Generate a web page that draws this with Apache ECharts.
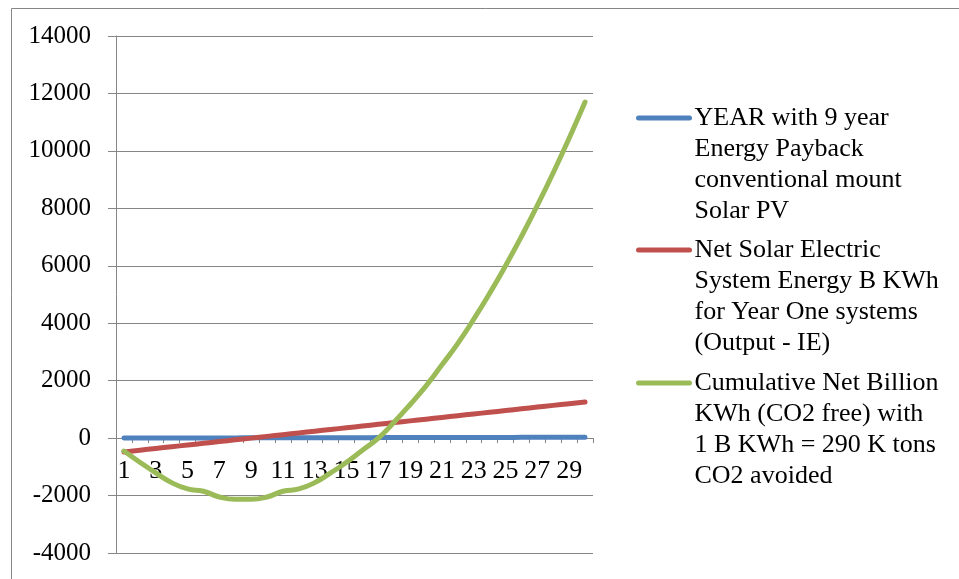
<!DOCTYPE html>
<html>
<head>
<meta charset="utf-8">
<script src="https://cdn.jsdelivr.net/npm/echarts@6/dist/echarts.min.js"></script>
<style>
html,body{margin:0;padding:0;background:#fff;}
#chart{width:959px;height:579px;}
</style>
</head>
<body>
<div id="chart"></div>
<script>
const categories = ['1','2','3','4','5','6','7','8','9','10','11','12','13','14','15','16','17','18','19','20','21','22','23','24','25','26','27','28','29','30'];
const seriesNames = [
  'YEAR with 9 year Energy Payback conventional mount Solar PV',
  'Net Solar Electric System Energy B KWh for Year One systems (Output - IE)',
  'Cumulative Net Billion KWh (CO2 free) with 1 B KWh = 290 K tons CO2 avoided'
];
const legendLabels = [
  'YEAR with 9 year\nEnergy Payback\nconventional mount\nSolar PV',
  'Net Solar Electric\nSystem Energy B KWh\nfor Year One systems\n(Output - IE)',
  'Cumulative Net Billion\nKWh (CO2 free) with\n1 B KWh = 290 K tons\nCO2 avoided'
];
const yearValues = [1,2,3,4,5,6,7,8,9,10,11,12,13,14,15,16,17,18,19,20,21,22,23,24,25,26,27,28,29,30];
const netValues = [-480,-420,-360,-300,-240,-180,-120,-60,0,60,120,180,240,300,360,420,480,540,600,660,720,780,840,900,960,1020,1080,1140,1200,1260];
const cumulativeValues = [-450,-840,-1210,-1550,-1770,-1850,-2050,-2130,-2130,-2050,-1850,-1770,-1550,-1210,-840,-420,0,560,1170,1820,2550,3300,4140,5040,6000,7020,8100,9240,10440,11700];
const yTicks = {min:-4000, max:14000, interval:2000};
const colors = ['#4F81BD','#C0504D','#9BBB59'];

const FONT = "'Liberation Serif','Times New Roman',serif";
const GRAY = '#868686';
const chart = echarts.init(document.getElementById('chart'));
const values = [yearValues, netValues, cumulativeValues];
const legendTops = [9.5, 141.5, 274.5];

const gridTop = 36, gridBottom = 26, chartH = 579;
const plotH = chartH - gridTop - gridBottom;
// shift x axis from the bottom edge up to the zero line of the value axis
const zeroOffset = -plotH * (0 - yTicks.min) / (yTicks.max - yTicks.min);

const option = {
  animation: false,
  backgroundColor: '#fff',
  color: colors,
  textStyle: {fontFamily: FONT},
  graphic: [{
    type: 'rect', left: 9, top: 6, z: -1,
    shape: {width: 1000, height: 700},
    style: {fill: 'none', stroke: GRAY, lineWidth: 1}
  }],
  grid: {left: 116, right: 366, top: gridTop, bottom: gridBottom, containLabel: false, outerBoundsMode: 'none'},
  xAxis: {
    type: 'category',
    data: categories,
    boundaryGap: true,
    position: 'bottom',
    offset: zeroOffset,
    axisLine: {onZero: false, lineStyle: {color: GRAY, width: 1}},
    axisTick: {show: true, interval: 0, length: 5, lineStyle: {color: GRAY}},
    axisLabel: {interval: 1, fontSize: 26, color: '#000', fontFamily: FONT, margin: 20},
    splitLine: {show: false}
  },
  yAxis: {
    type: 'value',
    min: yTicks.min, max: yTicks.max, interval: yTicks.interval,
    axisLine: {show: true, lineStyle: {color: GRAY, width: 1}},
    axisTick: {show: true, length: 8, lineStyle: {color: GRAY}},
    axisLabel: {fontSize: 25, color: '#000', fontFamily: FONT, margin: 25, formatter: v => String(v)},
    splitLine: {show: true, lineStyle: {color: GRAY, width: 1}}
  },
  legend: seriesNames.map((n, i) => ({
    data: [n],
    orient: 'vertical',
    left: 636,
    top: legendTops[i],
    padding: 0,
    itemWidth: 51,
    itemHeight: 14,
    lineStyle: {width: 5, cap: 'round'},
    itemStyle: {opacity: 0},
    formatter: () => '\n\n\n' + legendLabels[i],
    textStyle: {fontSize: 26, lineHeight: 31, color: '#000', fontFamily: FONT},
    selectedMode: false
  })),
  series: seriesNames.map((n, i) => ({
    name: n,
    type: 'line',
    data: values[i],
    smooth: true,
    symbol: 'none',
    lineStyle: {width: 5, color: colors[i], cap: 'round'},
    itemStyle: {color: colors[i]},
    z: 2 + i
  }))
};
chart.setOption(option);
</script>
</body>
</html>
